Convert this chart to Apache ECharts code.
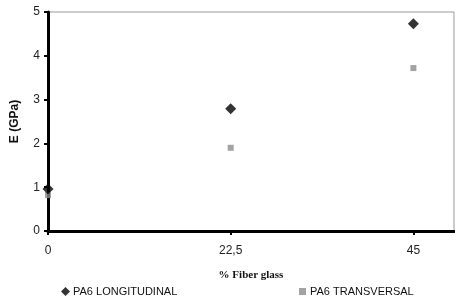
<!DOCTYPE html>
<html>
<head>
<meta charset="utf-8">
<script src="https://cdn.jsdelivr.net/npm/echarts@6/dist/echarts.min.js"></script>
<style>
  html, body { margin: 0; padding: 0; background: #fff; }
  #chart { width: 455px; height: 300px; }
</style>
</head>
<body>
<div id="chart"></div>
<script>
const fiberPct = [0, 22.5, 45]
const longitudinal = [0.96, 2.79, 4.73]
const transversal = [0.82, 1.9, 3.72]
const xTicks = [0, 22.5, 45]

const chart = echarts.init(document.getElementById('chart'))

const font = 'Liberation Sans, Arial, sans-serif'

chart.setOption({
  animation: false,
  grid: {
    left: 48, right: 1, top: 12, bottom: 69,
    show: true, borderColor: '#999', borderWidth: 1
  },
  legend: [
    {
      data: [{ name: 'PA6 LONGITUDINAL', icon: 'diamond' }],
      left: 56, top: 281, itemWidth: 9, itemHeight: 9, itemGap: 4,
      textStyle: { fontFamily: font, fontSize: 11, color: '#111', padding: [0, 0, 0, -2] }
    },
    {
      data: [{ name: 'PA6 TRANSVERSAL', icon: 'rect' }],
      left: 294, top: 281, itemWidth: 7, itemHeight: 7, itemGap: 4,
      textStyle: { fontFamily: font, fontSize: 11, color: '#111', padding: [0, 0, 0, -1] }
    }
  ],
  xAxis: {
    type: 'value',
    min: 0, max: 50,
    name: '% Fiber glass',
    nameLocation: 'middle',
    nameGap: 39,
    nameTextStyle: { fontFamily: 'Liberation Serif, Times New Roman, serif', fontWeight: 'bold', fontSize: 11, color: '#111' },
    splitLine: { show: false },
    axisLine: { show: true, onZero: false, lineStyle: { color: '#000', width: 3 } },
    axisTick: { show: true, length: 4, customValues: xTicks, lineStyle: { color: '#000', width: 2 } },
    axisLabel: {
      customValues: xTicks,
      margin: 14,
      fontFamily: font, fontSize: 12, color: '#222',
      formatter: v => String(v).replace('.', ',')
    }
  },
  yAxis: {
    type: 'value',
    min: 0, max: 5, interval: 1,
    name: 'E (GPa)',
    nameLocation: 'middle',
    nameGap: 27,
    nameTextStyle: { fontFamily: font, fontWeight: 'bold', fontSize: 12, color: '#111' },
    splitLine: { show: false },
    axisLine: { show: true, lineStyle: { color: '#000', width: 3 } },
    axisTick: { show: true, length: 4, lineStyle: { color: '#000', width: 2 } },
    axisLabel: { margin: 8, fontFamily: font, fontSize: 12, color: '#222' }
  },
  series: [
    {
      name: 'PA6 LONGITUDINAL',
      type: 'scatter',
      symbol: 'diamond',
      symbolSize: 11,
      itemStyle: { color: '#000' },
      z: 3,
      data: fiberPct.map((x, i) => [x, longitudinal[i]])
    },
    {
      name: 'PA6 TRANSVERSAL',
      type: 'scatter',
      symbol: 'rect',
      symbolSize: 6,
      itemStyle: { color: '#8c8c8c' },
      z: 2,
      data: fiberPct.map((x, i) => [x, transversal[i]])
    }
  ]
})
</script>
</body>
</html>
